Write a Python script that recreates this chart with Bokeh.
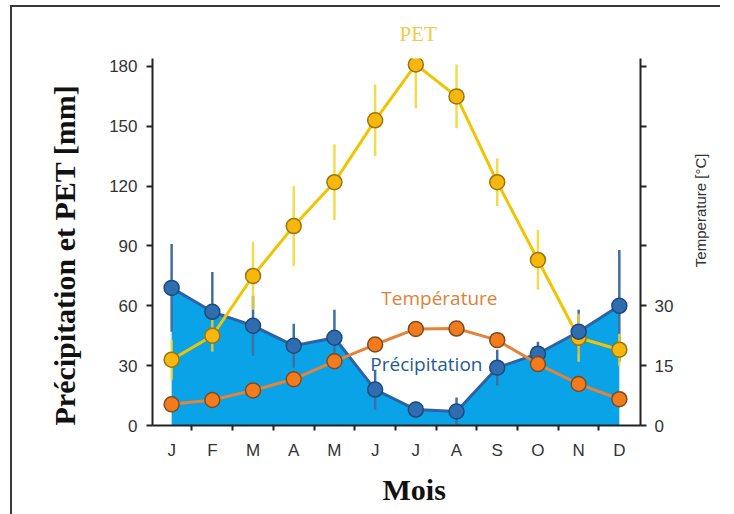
from bokeh.plotting import figure
from bokeh.models import (Range1d, LinearAxis, FixedTicker, Label, ColumnDataSource, Title)
from bokeh.embed import file_html
from bokeh.resources import INLINE

# ---- data ----
months = ["J", "F", "M", "A", "M", "J", "J", "A", "S", "O", "N", "D"]
month_pos = [1, 2, 3, 4, 5, 6, 7, 8, 9, 10, 11, 12]
precip = [69, 57, 50, 40, 44, 18, 8, 7, 29, 36, 47, 60]
precip_err = [22, 20, 15, 11, 14, 10, 4, 7, 9, 6, 11, 28]
pet = [33, 45, 75, 100, 122, 153, 181, 165, 122, 83, 44, 38]
pet_err = [10, 8, 17, 20, 19, 18, 22, 16, 12, 15, 12, 8]
temp = [5.3, 6.4, 8.8, 11.6, 16.1, 20.3, 24.2, 24.3, 21.4, 15.4, 10.4, 6.6]
left_ticks = [0, 30, 60, 90, 120, 150, 180]
right_ticks = [0, 15, 30, 45, 60, 75, 90]
right_labels = {45: "", 60: "", 75: "", 90: ""}

src = ColumnDataSource(dict(
    x=month_pos, precip=precip, pet=pet, temp=temp,
    p_lo=[a - b for a, b in zip(precip, precip_err)],
    p_hi=[a + b for a, b in zip(precip, precip_err)],
    e_lo=[a - b for a, b in zip(pet, pet_err)],
    e_hi=[a + b for a, b in zip(pet, pet_err)],
    zero=[0] * 12,
))

p = figure(frame_width=488, frame_height=367, output_backend="svg", toolbar_location=None,
           x_range=Range1d(0.53, 12.52), y_range=Range1d(0, 184),
           min_border_left=140, min_border_right=76, min_border_top=51,
           min_border_bottom=76)
p.margin = (5, 0, 0, 10)
p.styles = {"border-left": "2px solid #3a3a3a", "border-top": "2px solid #3a3a3a"}
p.extra_y_ranges = {"temp": Range1d(0, 92)}
p.outline_line_color = None
p.grid.visible = False
p.background_fill_color = "white"
p.border_fill_color = "white"

# precipitation area
p.varea(x="x", y1="zero", y2="precip", source=src, fill_color="#0aa3e8")
# error bars
p.segment(x0="x", y0="p_lo", x1="x", y1="p_hi", source=src, line_color="#3f6fa3", line_width=2.5)
p.segment(x0="x", y0="e_lo", x1="x", y1="e_hi", source=src, line_color="#f0d62e", line_width=2.5, line_alpha=0.85)
# lines
p.line("x", "precip", source=src, line_color="#2b63a6", line_width=3)
p.line("x", "pet", source=src, line_color="#f0c400", line_width=3)
p.line("x", "temp", source=src, y_range_name="temp", line_color="#e2843a", line_width=3)
# markers
p.scatter("x", "pet", source=src, size=15, fill_color="#f7b70c", line_color="#9a7410", line_width=1.5)
p.scatter("x", "precip", source=src, size=15, fill_color="#2f6db0", line_color="#1d4a7c", line_width=1.5)
p.scatter("x", "temp", source=src, y_range_name="temp", size=15, fill_color="#f27b1e", line_color="#7d4b22", line_width=1.5)

# axes styling
xa = p.xaxis[0]
xa.ticker = FixedTicker(ticks=month_pos, minor_ticks=[1.5, 2.5, 3.5, 4.5, 5.5, 6.5, 7.5, 8.5, 9.5, 10.5, 11.5])
xa.major_label_overrides = {i: m for i, m in zip(month_pos, months)}
xa.major_tick_out = 0
xa.major_tick_in = 0
xa.minor_tick_out = 5
xa.minor_tick_in = 0
xa.major_label_standoff = 10
xa.axis_line_width = 2
xa.axis_line_color = "#222222"
xa.minor_tick_line_width = 2
xa.minor_tick_line_color = "#222222"
xa.major_label_text_font = "Liberation Sans"
xa.major_label_text_font_size = "17px"
xa.major_label_text_color = "#333333"

ya = p.yaxis[0]
ya.ticker = FixedTicker(ticks=left_ticks, minor_ticks=[])
ya.major_tick_out = 6
ya.major_tick_in = 0
ya.major_label_standoff = 9
ya.axis_line_width = 2
ya.axis_line_color = "#222222"
ya.major_tick_line_width = 2
ya.major_tick_line_color = "#222222"
ya.major_label_text_font = "Liberation Sans"
ya.major_label_text_font_size = "17px"
ya.major_label_text_color = "#333333"

ra = LinearAxis(y_range_name="temp", ticker=FixedTicker(ticks=right_ticks, minor_ticks=[]))
ra.major_label_overrides = right_labels
ra.major_tick_out = 6
ra.major_tick_in = 0
ra.major_label_standoff = 8
ra.axis_line_width = 2
ra.axis_line_color = "#222222"
ra.major_tick_line_width = 2
ra.major_tick_line_color = "#222222"
ra.major_label_text_font = "Liberation Sans"
ra.major_label_text_font_size = "17px"
ra.major_label_text_color = "#333333"
ra.axis_label = "\u00a0" * 38 + "Temperature  [°C]"
ra.axis_label_orientation = 1.5708
ra.axis_label_standoff = 24
ra.axis_label_text_font = "Liberation Sans"
ra.axis_label_text_font_style = "normal"
ra.axis_label_text_font_size = "15px"
ra.axis_label_text_color = "#333333"
if "axis_label_align" in ra.properties():
    ra.axis_label_align = "start"
p.add_layout(ra, "right")

# titles outside the frame
p.add_layout(Title(text="Précipitation et PET [mm]", align="left", offset=0, standoff=52,
                   text_font="Liberation Serif", text_font_style="bold",
                   text_font_size="30px", text_color="#111111"), "left")
p.add_layout(Title(text="Mois", align="left", offset=230, standoff=17,
                   text_font="Liberation Serif", text_font_style="bold",
                   text_font_size="30px", text_color="#111111"), "below")
p.add_layout(Title(text="PET", align="left", offset=247, standoff=25,
                   text_font="Liberation Serif", text_font_style="normal",
                   text_font_size="21px", text_color="#f0cc45"), "above")

# in-plot labels
p.add_layout(Label(x=7.58, y=64, text="Température", text_align="center", text_baseline="middle",
                   text_font="Open Sans", text_font_size="19px", text_color="#e08036"))
p.add_layout(Label(x=7.26, y=30.6, text="Précipitation", text_align="center", text_baseline="middle",
                   text_font="Open Sans", text_font_size="19px", text_color="#1f5c96"))

open("out.html", "w").write(file_html(p, INLINE))
